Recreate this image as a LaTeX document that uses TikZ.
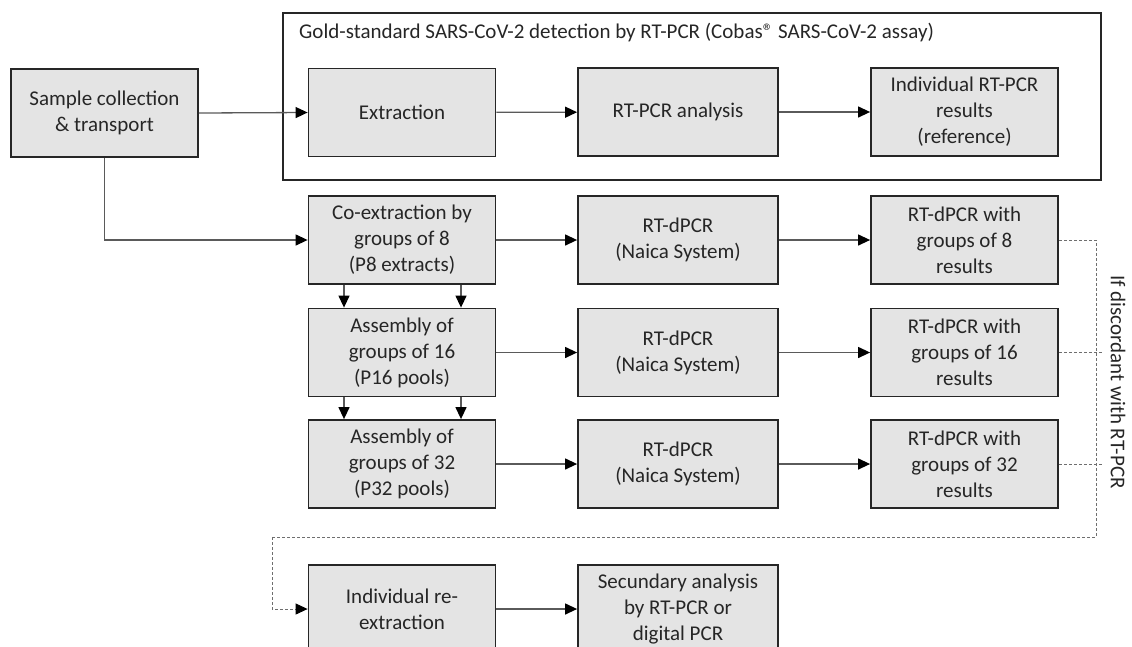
\documentclass[tikz,border=0pt]{standalone}
\usepackage{fontspec}
\setmainfont{Carlito}
\usetikzlibrary{arrows.meta}
\definecolor{boxfill}{RGB}{228,228,228}
\definecolor{boxline}{RGB}{38,38,38}
\definecolor{linkgray}{RGB}{90,90,90}
\definecolor{dashgray}{RGB}{110,110,110}
\begin{document}
\begin{tikzpicture}[x=1pt,y=1pt,font=\fontsize{21}{26}\selectfont,text=boxline,
  stage/.style={draw=boxline,line width=1.8pt,fill=boxfill,minimum width=187pt,minimum height=88pt,align=center,inner sep=0pt},
  widestage/.style={stage,minimum width=200pt},
  flow/.style={draw=linkgray,line width=1.3pt,-{Triangle[length=12pt,width=11pt,color=black]}},
  recheck/.style={draw=dashgray,line width=1pt,dash pattern=on 3pt off 2pt}]
\tikzstyle{every node}+=[inner sep=0pt]
\useasboundingbox (0,0) rectangle (1132,-646);
\clip (0,0) rectangle (1132,-646);
\draw [boxline,line width=1.8pt] (283,-13) rectangle (1101,-180);
\node [anchor=west] (gold) at (299,-33) {Gold-standard SARS-CoV-2 detection by RT-PCR (Cobas® SARS-CoV-2 assay)};
\node [stage] (sample) at (104.5,-113) {Sample collection\\\& transport};
\node [stage] (extr) at (402,-112.5) {Extraction};
\node [widestage] (rtpcr) at (678,-112) {RT-PCR analysis};
\node [stage] (indres) at (964.5,-112) {Individual RT-PCR\\results\\(reference)};
\node [stage] (coex) at (402,-240) {Co-extraction by\\groups of 8\\(P8 extracts)};
\node [widestage] (dpcr8) at (678,-240) {RT-dPCR\\(Naica System)};
\node [stage] (res8) at (964.5,-240) {RT-dPCR with\\groups of 8\\results};
\node [stage] (asm16) at (402,-352.5) {Assembly of\\groups of 16\\(P16 pools)};
\node [widestage] (dpcr16) at (678,-352.5) {RT-dPCR\\(Naica System)};
\node [stage] (res16) at (964.5,-352.5) {RT-dPCR with\\groups of 16\\results};
\node [stage] (asm32) at (402,-464) {Assembly of\\groups of 32\\(P32 pools)};
\node [widestage] (dpcr32) at (678,-464) {RT-dPCR\\(Naica System)};
\node [stage] (res32) at (964.5,-464) {RT-dPCR with\\groups of 32\\results};
\node [stage] (reext) at (402,-609) {Individual re-\\extraction};
\node [widestage] (second) at (678,-609) {Secundary analysis\\by RT-PCR or\\digital PCR};
\node [rotate=-90] (discord) at (1118,-382) {If discordant with RT-PCR};
\coordinate (dtop) at (1096,-240);
\coordinate (dbot) at (1096,-537);
\coordinate (dleft) at (272,-537);
\draw [flow] (sample.east) -- (extr.west);
\draw [flow] (extr) -- (rtpcr);
\draw [flow] (rtpcr) -- (indres);
\draw [flow] (sample.south) |- (coex.west);
\draw [flow] (coex) -- (dpcr8);
\draw [flow] (dpcr8) -- (res8);
\draw [flow] (asm16) -- (dpcr16);
\draw [flow] (dpcr16) -- (res16);
\draw [flow] (asm32) -- (dpcr32);
\draw [flow] (dpcr32) -- (res32);
\draw [flow] ([xshift=-58pt]coex.south) -- ([xshift=-58pt]asm16.north);
\draw [flow] ([xshift=59pt]coex.south) -- ([xshift=59pt]asm16.north);
\draw [flow] ([xshift=-58pt]asm16.south) -- ([xshift=-58pt]asm32.north);
\draw [flow] ([xshift=59pt]asm16.south) -- ([xshift=59pt]asm32.north);
\draw [flow] (reext) -- (second);
\draw [recheck] (res8.east) -- (dtop) -- (dbot) -- (dleft);
\draw [recheck,-{Triangle[length=12pt,width=11pt,color=black]}] (dleft) |- (reext.west);
\draw [recheck] (res16.east) -- ++(44,0);
\draw [recheck] (res32.east) -- ++(44,0);
\end{tikzpicture}
\end{document}
